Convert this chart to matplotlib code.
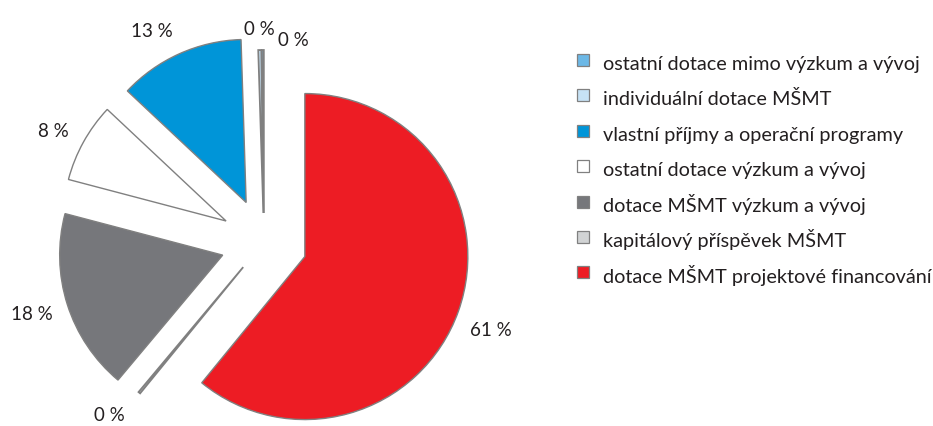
import matplotlib
matplotlib.use("Agg")
import matplotlib.pyplot as plt
from matplotlib.lines import Line2D

# ---- data ----
categories = [
    "ostatní dotace mimo výzkum a vývoj",
    "individuální dotace MŠMT",
    "vlastní příjmy a operační programy",
    "ostatní dotace výzkum a vývoj",
    "dotace MŠMT výzkum a vývoj",
    "kapitálový příspěvek MŠMT",
    "dotace MŠMT projektové financování",
]
shares = [0.2, 0.3, 12.5, 7.9, 18.0, 0.2, 60.9]
pct_labels = ["0 %", "0 %", "13 %", "8 %", "18 %", "0 %", "61 %"]

# ---- styles ----
colors = ["#6cb8e6", "#c6e2f5", "#0095d8", "#ffffff", "#76777b", "#d1d3d4", "#ed1c24"]
explode = [0.178, 0.178, 0.266, 0.266, 0.266, 0.2, 0.266]
label_nudge = [(-0.02, -0.085), (0.21, -0.15), (-0.08, -0.055), (0, -0.037),
               (-0.015, 0.0), (-0.05, 0.02), (0, -0.05)]
TXT = "#231f20"
EDGE = "#808080"

W, H = 933, 426
R_PX = 163.0
CX, CY = 264.0, 242.0

fig = plt.figure(figsize=(W / 100, H / 100), dpi=100)
ax = fig.add_axes([0, 0, 1, 1])
wedges, texts = ax.pie(
    shares, explode=explode, colors=colors, labels=pct_labels,
    startangle=90, counterclock=True, radius=1, labeldistance=1.21,
    wedgeprops=dict(edgecolor=EDGE, linewidth=1.0),
    textprops=dict(fontsize=13.5, color=TXT, family="Lato"),
)
for w, s in zip(wedges, shares):
    if s < 0.5:
        w.set_linewidth(1.3)
for t, (dx, dy) in zip(texts, label_nudge):
    t.set_ha("center")
    t.set_va("center")
    x, y = t.get_position()
    t.set_position((x + dx, y + dy))

ax.set_xlim(-CX / R_PX, (W - CX) / R_PX)
ax.set_ylim(-(H - CY) / R_PX, CY / R_PX)
ax.set_aspect("auto")
ax.axis("off")

handles = [
    Line2D([], [], linestyle="None", marker="s", markersize=8.4,
           markerfacecolor=c, markeredgecolor=EDGE, markeredgewidth=0.9)
    for c in colors
]
fs = 14.3
fig.legend(
    handles, categories, loc="upper left",
    bbox_to_anchor=(576 / W, 1 - 49.5 / H),
    frameon=False, prop=dict(family="Lato", size=fs), labelcolor=TXT,
    handlelength=0.75, handleheight=1.8, handletextpad=0.62,
    labelspacing=0.37, borderpad=0, borderaxespad=0,
)

fig.savefig("out.png", dpi=100)
